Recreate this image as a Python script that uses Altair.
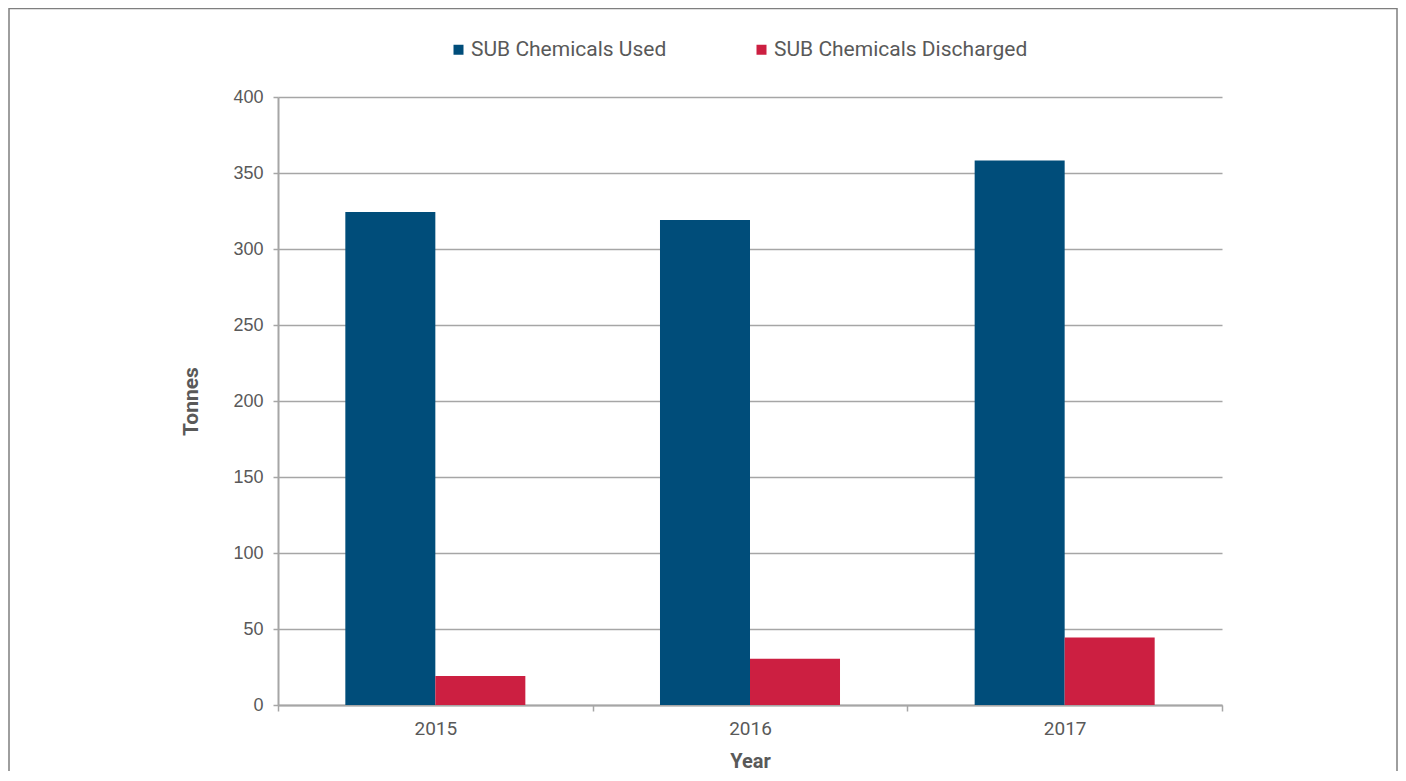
import altair as alt
import pandas as pd

years = ["2015", "2016", "2017"]
series = ["SUB Chemicals Used", "SUB Chemicals Discharged"]
used = [324.4, 319.0, 358.2]
discharged = [19.1, 30.5, 44.4]
colors = ["#004D7A", "#CC1F41"]
y_ticks = [0, 50, 100, 150, 200, 250, 300, 350, 400]

rows = []
for i, yr in enumerate(years):
    rows.append({"Year": yr, "Series": series[0], "Tonnes": used[i]})
    rows.append({"Year": yr, "Series": series[1], "Tonnes": discharged[i]})
df = pd.DataFrame(rows)

GRAY = "#595959"
LINE = "#a6a6a6"

bars = alt.Chart(df).mark_bar().encode(
    x=alt.X("Year:N", sort=years,
            scale=alt.Scale(paddingInner=0, paddingOuter=0),
            axis=alt.Axis(title="Year", labelAngle=0, labelFont="Roboto", labelFontSize=19,
                          labelColor=GRAY, titleFont="Roboto", titleFontSize=20,
                          titleFontWeight="bold", titleColor=GRAY, titlePadding=13,
                          tickBand="extent", tickSize=6, tickColor=LINE, tickWidth=1.5,
                          domainColor=LINE, domainWidth=2, labelPadding=8)),
    xOffset=alt.XOffset("Series:N", sort=series,
                        scale=alt.Scale(paddingInner=0, paddingOuter=0.748)),
    y=alt.Y("Tonnes:Q", scale=alt.Scale(domain=[0, 400], nice=False),
            axis=alt.Axis(title="Tonnes", values=y_ticks, labelFont="Liberation Sans",
                          labelFontSize=18, labelColor=GRAY, titleFont="Roboto",
                          titleFontSize=21, titleFontWeight="bold", titleColor=GRAY,
                          titlePadding=31, tickSize=5, tickColor=LINE, tickWidth=1.5,
                          domainColor=LINE, domainWidth=2, labelPadding=10,
                          gridColor=LINE, gridWidth=1.5)),
    color=alt.Color("Series:N", sort=series,
                    scale=alt.Scale(domain=series, range=colors),
                    legend=alt.Legend(title=None, orient="none", direction="horizontal",
                                      legendX=170, legendY=-58, symbolType="square",
                                      symbolSize=100, symbolStrokeWidth=0,
                                      labelFont="Roboto", labelFontSize=21, labelLimit=0,
                                      labelColor=GRAY, columnPadding=84, labelOffset=2)),
)

frame = alt.Chart(alt.Data(values=[{"a": 1}])).mark_rect(
    fill=None, stroke="#7f7f7f", strokeWidth=1.5
).encode(
    x=alt.value(-269), x2=alt.value(1119), y=alt.value(-88.5), y2=alt.value(720)
)

chart = alt.layer(frame, bars).properties(
    width=944, height=608,
    autosize=alt.AutoSizeParams(type="none"),
    padding={"left": 270, "top": 89, "right": 176, "bottom": 66},
).configure_view(stroke=None)

chart.save("out.html", embed_options={"renderer": "svg", "actions": False})
